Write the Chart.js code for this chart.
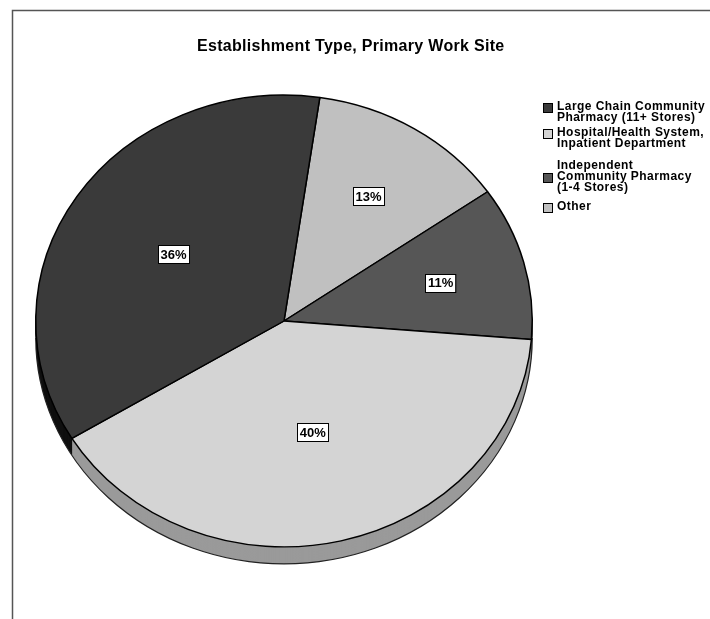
<!DOCTYPE html>
<html>
<head>
<meta charset="utf-8">
<script src="https://cdn.jsdelivr.net/npm/chart.js@4.4.1/dist/chart.umd.min.js"></script>
<style>
  html, body { margin: 0; padding: 0; background: #fff; }
  #wrap { width: 710px; height: 619px; }
</style>
</head>
<body>
<div id="wrap"><canvas id="siteChart" width="710" height="619"></canvas></div>
<script>
// legend order (top to bottom)
const categories = [
  "Large Chain Community Pharmacy (11+ Stores)",
  "Hospital/Health System, Inpatient Department",
  "Independent Community Pharmacy (1-4 Stores)",
  "Other",
];
const legendLines = [
  ["Large Chain Community", "Pharmacy (11+ Stores)"],
  ["Hospital/Health System,", "Inpatient Department"],
  ["Independent", "Community Pharmacy", "(1-4 Stores)"],
  ["Other"],
];
const shares = [36, 40, 11, 13];
const faceColors = ["#3a3a3a", "#d4d4d4", "#565656", "#c0c0c0"];
const rimColors = ["#101010", "#9a9a9a", "#1c1c1c", "#8c8c8c"];

// slices run clockwise from the top in reverse legend order
const order = [3, 2, 1, 0];

const TILT = 0.91;   // vertical squash of the pie face
const RIM = 17;      // depth of the side wall in px

function sliceInfo(arc) {
  return arc.getProps(["x", "y", "startAngle", "endAngle", "outerRadius"], true);
}

const pie3d = {
  id: "pie3d",
  beforeDatasetsDraw(chart) {
    const ctx = chart.ctx;
    const meta = chart.getDatasetMeta(0);
    const { x: cx, y: cy } = sliceInfo(meta.data[0]);
    ctx.save();
    ctx.translate(cx, cy);
    ctx.scale(1, TILT);
    ctx.translate(-cx, -cy);
    // side wall: stacked copies of each slice, deepest first
    for (let d = RIM; d >= 1; d--) {
      meta.data.forEach((arc, i) => {
        const p = sliceInfo(arc);
        ctx.beginPath();
        ctx.moveTo(cx, cy + d / TILT);
        ctx.arc(cx, cy + d / TILT, p.outerRadius, p.startAngle, p.endAngle);
        ctx.closePath();
        ctx.fillStyle = rimColors[order[i]];
        ctx.fill();
      });
    }
    const r = sliceInfo(meta.data[0]).outerRadius;
    ctx.beginPath();
    ctx.arc(cx, cy + RIM / TILT, r, 0, Math.PI);
    ctx.lineWidth = 1.2;
    ctx.strokeStyle = "#222";
    ctx.stroke();
  },
  afterDatasetsDraw(chart) {
    const ctx = chart.ctx;
    ctx.restore();
    const meta = chart.getDatasetMeta(0);
    ctx.font = "bold 13px Arial, 'Liberation Sans', sans-serif";
    ctx.textAlign = "center";
    ctx.textBaseline = "middle";
    meta.data.forEach((arc, i) => {
      const p = sliceInfo(arc);
      const mid = (p.startAngle + p.endAngle) / 2;
      const half = (p.endAngle - p.startAngle) / 2;
      const k = (2 * Math.sin(half)) / (3 * half); // sector centroid
      const lx = p.x + Math.cos(mid) * p.outerRadius * k;
      const ly = p.y + Math.sin(mid) * p.outerRadius * k * TILT;
      const txt = chart.data.datasets[0].data[i] + "%";
      const w = ctx.measureText(txt).width + 5;
      const h = 18;
      ctx.fillStyle = "#fff";
      ctx.fillRect(Math.round(lx - w / 2), Math.round(ly - h / 2), w, h);
      ctx.lineWidth = 1;
      ctx.strokeStyle = "#000";
      ctx.strokeRect(Math.round(lx - w / 2) + 0.5, Math.round(ly - h / 2) + 0.5, w, h);
      ctx.fillStyle = "#000";
      ctx.fillText(txt, lx, ly + 1);
    });
  },
  afterDraw(chart) {
    const ctx = chart.ctx;
    ctx.save();
    // frame
    ctx.strokeStyle = "#555";
    ctx.lineWidth = 1.5;
    ctx.beginPath();
    ctx.moveTo(12.5, 619);
    ctx.lineTo(12.5, 10.5);
    ctx.lineTo(710, 10.5);
    ctx.stroke();
    // title
    ctx.fillStyle = "#000";
    ctx.font = "bold 16px Arial, 'Liberation Sans', sans-serif";
    ctx.letterSpacing = "0.3px";
    ctx.textAlign = "left";
    ctx.textBaseline = "middle";
    ctx.fillText("Establishment Type, Primary Work Site", 197, 47);
    // legend
    const lh = 10.7;
    const firstLine = [107, 133, 166, 207];
    ctx.font = "bold 12px Arial, 'Liberation Sans', sans-serif";
    ctx.letterSpacing = "0.45px";
    legendLines.forEach((lines, i) => {
      const y0 = firstLine[i];
      const by = y0 + Math.floor((lines.length - 1) / 2) * lh + 1;
      ctx.fillStyle = faceColors[i];
      ctx.fillRect(543, Math.round(by - 5), 10, 10);
      ctx.strokeStyle = "#000";
      ctx.lineWidth = 1;
      ctx.strokeRect(543.5, Math.round(by - 5) + 0.5, 9, 9);
      ctx.fillStyle = "#000";
      lines.forEach((ln, j) => ctx.fillText(ln, 557, y0 + j * lh));
    });
    ctx.restore();
  },
};

new Chart(document.getElementById("siteChart"), {
  type: "pie",
  data: {
    labels: order.map((i) => categories[i]),
    datasets: [
      {
        data: order.map((i) => shares[i]),
        backgroundColor: order.map((i) => faceColors[i]),
        borderColor: "#000",
        borderWidth: 1.5,
      },
    ],
  },
  options: {
    responsive: false,
    animation: false,
    rotation: 8.3,
    layout: { padding: { left: 35, right: 177, top: 72, bottom: 49 } },
    plugins: {
      legend: { display: false },
      tooltip: { enabled: false },
      title: { display: false },
    },
  },
  plugins: [pie3d],
});
</script>
</body>
</html>
